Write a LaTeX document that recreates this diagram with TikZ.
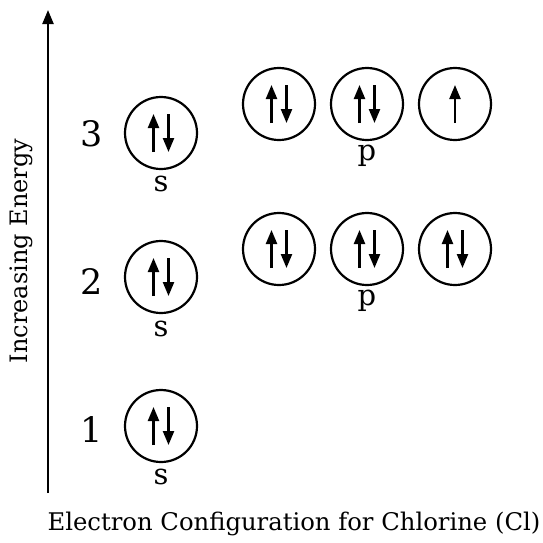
\documentclass[tikz,border=0pt]{standalone}
\usepackage{fontspec}
\setmainfont{DejaVu Serif}
\usetikzlibrary{arrows.meta}
\tikzset{
  orb/.style={circle,draw,line width=2.2pt,minimum size=72pt,inner sep=0pt},
  spin/.style={line width=2.3pt,-{Triangle[length=14pt,width=11pt]}},
  lvl/.style={font=\fontsize{35}{35}\selectfont},
  sub/.style={font=\fontsize{29}{29}\selectfont},
}
\begin{document}
\begin{tikzpicture}[x=1pt,y=-1pt]
\useasboundingbox (0,0) rectangle (543,542);
% axis
\coordinate (ax0) at (48,493);
\coordinate (ax1) at (48,10);
\draw[line width=2.2pt,-{Triangle[length=14pt,width=11pt]}] (ax0) -- (ax1);
\node[rotate=90,font=\fontsize{24}{24}\selectfont] (ylab) at (21,251) {Increasing Energy};
\node[font=\fontsize{24.3}{24.3}\selectfont] (xlab) at (294,524) {Electron Configuration for Chlorine (Cl)};
% levels
\node[lvl] (n3) at (92,134) {3};
\node[lvl] (n2) at (92,282) {2};
\node[lvl] (n1) at (92,429) {1};
% orbitals
\node[orb] (s3) at (161,133) {};
\node[orb] (s2) at (161,277) {};
\node[orb] (s1) at (161,426) {};
\node[orb] (p31) at (279,104) {};
\node[orb] (p32) at (367,104) {};
\node[orb] (p33) at (455,104) {};
\node[orb] (p21) at (279,249) {};
\node[orb] (p22) at (367,249) {};
\node[orb] (p23) at (455,249) {};
\node[sub] (ls3) at (161,184) {s};
\node[sub] (ls2) at (161,329) {s};
\node[sub] (ls1) at (161,477) {s};
\node[sub] (lp3) at (367,156) {p};
\node[sub] (lp2) at (367,301) {p};
% spins
\foreach \o in {s3,s2,s1,p31,p32,p21,p22,p23}{
  \draw[spin] ([xshift=-7.5pt,yshift=-19pt]\o.center) -- ([xshift=-7.5pt,yshift=19pt]\o.center);
  \draw[spin] ([xshift=7.5pt,yshift=19pt]\o.center) -- ([xshift=7.5pt,yshift=-19pt]\o.center);
}
\draw[spin] ([yshift=-19pt]p33.center) -- ([yshift=19pt]p33.center);
\end{tikzpicture}
\end{document}
